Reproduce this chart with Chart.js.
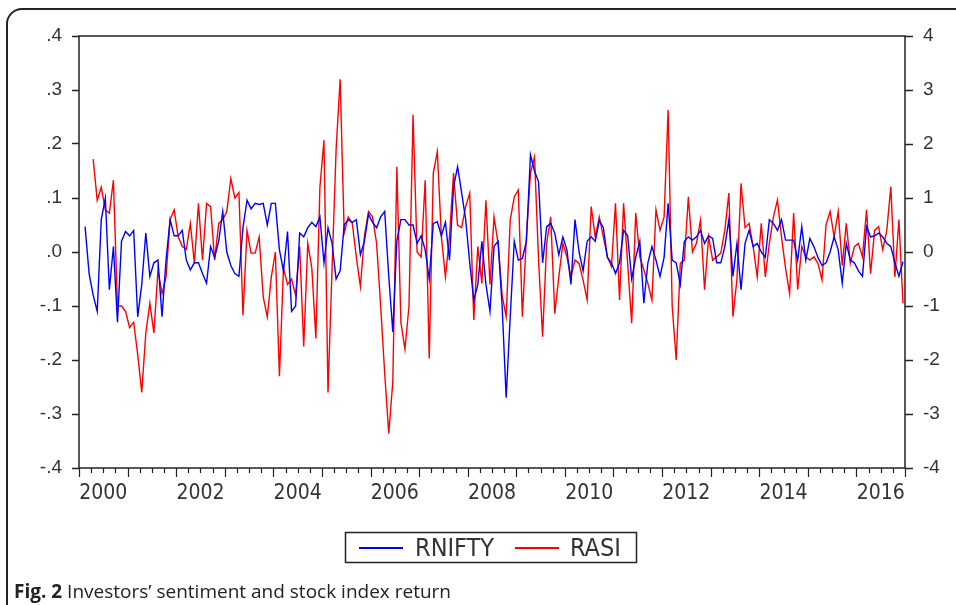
<!DOCTYPE html>
<html>
<head>
<meta charset="utf-8">
<script src="https://cdn.jsdelivr.net/npm/chart.js@4"></script>
<style>
  html, body { margin: 0; padding: 0; background: #fff; }
  #wrap { position: relative; width: 956px; height: 605px; overflow: hidden; }
  #frame { position: absolute; left: 6px; top: 8px; width: 1000px; height: 700px;
           border: 2px solid #222; border-radius: 16px 0 0 0; pointer-events: none; }
  #caption { position: absolute; left: 14px; top: 578px; font: 19px "Open Sans", sans-serif;
             color: #222; white-space: nowrap; }
</style>
</head>
<body>
<div id="wrap">
  <canvas id="chart" width="956" height="605"></canvas>
  <div id="frame"></div>
  <div id="caption"><b>Fig. 2</b> Investors’ sentiment and stock index return</div>
</div>
<script>
// monthly observations, one row per year
// RNIFTY starts Feb 2000, RASI starts Apr 2000, both end Dec 2016
const rniftyStart = 1;   // months after Jan 2000
const rasiStart = 3;
const rnifty = [
  0.047, -0.04, -0.08, -0.11, 0.06, 0.1, -0.07, 0.01, -0.13, 0.02, 0.038,
  0.03, 0.04, -0.12, -0.06, 0.035, -0.045, -0.02, -0.015, -0.12, -0.015, 0.06, 0.03,
  0.03, 0.04, -0.015, -0.033, -0.02, -0.02, -0.04, -0.058, 0.01, -0.01, 0.02, 0.075,
  0.0, -0.025, -0.04, -0.045, 0.045, 0.096, 0.08, 0.09, 0.088, 0.09, 0.05, 0.09,
  0.09, 0.004, -0.035, 0.038, -0.11, -0.1, 0.035, 0.028, 0.045, 0.055, 0.047, 0.065,
  -0.02, 0.045, 0.016, -0.05, -0.035, 0.05, 0.06, 0.055, 0.06, -0.005, 0.02, 0.07,
  0.055, 0.045, 0.065, 0.075, -0.045, -0.148, 0.02, 0.06, 0.06, 0.05, 0.05, 0.016,
  0.03, 0.004, -0.05, 0.053, 0.056, 0.03, 0.055, -0.015, 0.12, 0.158, 0.11, 0.06,
  -0.02, -0.09, -0.06, 0.02, -0.06, -0.11, 0.01, 0.02, -0.1, -0.27, -0.12, 0.02,
  -0.015, -0.012, 0.02, 0.18, 0.15, 0.13, -0.02, 0.047, 0.053, 0.035, -0.005, 0.028,
  0.004, -0.06, 0.06, 0.0, -0.035, 0.02, 0.028, 0.02, 0.058, 0.045, -0.01, -0.02,
  -0.04, -0.02, 0.04, 0.03, -0.05, -0.01, 0.02, -0.095, -0.02, 0.01, -0.015, -0.045,
  -0.01, 0.09, -0.015, -0.02, -0.06, 0.02, 0.028, 0.022, 0.028, 0.04, 0.016, 0.03,
  0.025, -0.02, -0.02, 0.01, 0.06, -0.045, 0.016, -0.07, 0.016, 0.04, 0.01, 0.016,
  0.0, -0.01, 0.06, 0.053, 0.04, 0.06, 0.022, 0.022, 0.022, -0.015, 0.047, -0.015,
  0.025, 0.01, -0.01, -0.025, -0.02, 0.0, 0.028, 0.004, -0.058, 0.016, -0.015, -0.02,
  -0.035, -0.045, 0.047, 0.028, 0.03, 0.035, 0.028, 0.016, 0.01, -0.02, -0.045, -0.018
];
const rasi = [
  1.72, 0.96, 1.2, 0.78, 0.72, 1.33, -1.0, -1.0, -1.1,
  -1.4, -1.3, -1.9, -2.6, -1.5, -0.95, -1.5, -0.33, -0.77, -0.46, 0.6, 0.78,
  0.28, 0.1, 0.05, 0.53, -0.21, 0.9, -0.15, 0.9, 0.84, -0.15, 0.53, 0.6,
  0.75, 1.36, 1.0, 1.1, -1.17, 0.4, -0.02, -0.02, 0.28, -0.83, -1.2, -0.46,
  0.0, -2.3, -0.3, -0.6, -0.5, -0.8, 0.1, -1.75, 0.16, -0.3, -1.6, 1.2,
  2.07, -2.6, -0.3, 1.9, 3.2, 0.35, 0.65, 0.53, -0.1, -0.64, 0.3, 0.75,
  0.65, 0.16, -1.0, -2.25, -3.36, -2.4, 1.58, -1.3, -1.8, -1.0, 2.54, 0.0,
  -0.09, 1.33, -1.97, 1.46, 1.86, 0.28, -0.46, 0.28, 1.46, 0.5, 0.45, 0.84,
  1.09, -1.26, 0.1, -0.58, 0.96, -0.6, 0.65, 0.16, -0.8, -1.2, 0.59, 1.02,
  1.15, -1.2, 0.28, 1.46, 1.76, -0.15, -1.57, 0.16, 0.65, -1.14, -0.46, 0.16,
  -0.09, -0.46, -0.15, -0.21, -0.52, -0.89, 0.84, 0.28, 0.65, 0.28, -0.09, -0.27,
  0.9, -0.89, 0.9, -0.21, -1.32, 0.72, -0.09, -0.33, -0.58, -0.89, 0.78, 0.4,
  0.65, 2.63, -1.0, -2.0, -0.21, -0.15, 1.02, 0.0, 0.16, 0.59, -0.7, 0.28,
  -0.15, -0.09, -0.02, 0.4, 1.09, -1.2, -0.5, 1.27, 0.45, 0.53, 0.1, -0.46,
  0.53, -0.46, 0.16, 0.65, 0.96, 0.28, -0.3, -0.77, 0.72, -0.7, 0.1, -0.09,
  -0.15, -0.09, -0.21, -0.52, 0.5, 0.75, 0.28, 0.75, -0.25, 0.53, -0.21, 0.1,
  0.16, -0.09, 0.78, -0.4, 0.4, 0.47, 0.04, 0.4, 1.21, -0.46, 0.6, -0.95
];
const yearLabels = [2000, 2002, 2004, 2006, 2008, 2010, 2012, 2014, 2016];

const toPoints = (values, start) =>
  values.map((v, i) => ({ x: 2000 + (start + i + 0.5) / 12, y: v }));

const narrow = '"Liberation Sans Narrow", "Arial Narrow", "DejaVu Sans Condensed", "Liberation Sans", sans-serif';
const ink = '#333';

const boxPlugin = {
  id: 'box',
  afterDatasetsDraw(chart) {
    const { ctx, chartArea: a } = chart;
    const x = chart.scales.x;
    ctx.save();
    ctx.strokeStyle = '#222';
    ctx.lineWidth = 1.5;
    ctx.strokeRect(a.left, a.top, a.right - a.left, a.bottom - a.top);
    // quarterly ticks, long ones at each year
    ctx.lineWidth = 1.2;
    ctx.beginPath();
    for (let q = 0; q <= 68; q++) {
      const px = Math.round(x.getPixelForValue(2000 + q / 4)) + 0.5;
      ctx.moveTo(px, a.bottom);
      ctx.lineTo(px, a.bottom + (q % 4 === 0 ? 9 : 5));
    }
    ctx.stroke();
    // boxed legend below the axis
    ctx.lineWidth = 1.5;
    ctx.strokeRect(345.5, 532.5, 291, 30);
    const slots = [[359, 415], [515, 570]];
    ctx.font = '25px ' + narrow;
    ctx.textBaseline = 'middle';
    chart.data.datasets.forEach((ds, i) => {
      const [lx, tx] = slots[i];
      ctx.strokeStyle = ds.borderColor;
      ctx.lineWidth = 2;
      ctx.beginPath();
      ctx.moveTo(lx, 548);
      ctx.lineTo(lx + 44, 548);
      ctx.stroke();
      ctx.fillStyle = ink;
      ctx.fillText(ds.label, tx, 549);
    });
    ctx.restore();
  }
};

new Chart(document.getElementById('chart'), {
  type: 'line',
  data: {
    datasets: [
      { label: 'RNIFTY', data: toPoints(rnifty, rniftyStart), yAxisID: 'y',
        borderColor: '#0000ff', borderWidth: 1.4, pointRadius: 0, tension: 0 },
      { label: 'RASI', data: toPoints(rasi, rasiStart), yAxisID: 'y2',
        borderColor: '#ff0000', borderWidth: 1.4, pointRadius: 0, tension: 0 }
    ]
  },
  options: {
    responsive: false,
    animation: false,
    layout: { padding: { top: 36, left: 0, right: 0, bottom: 97 } },
    plugins: { legend: { display: false }, tooltip: { enabled: false } },
    scales: {
      x: {
        type: 'linear', min: 2000, max: 2017,
        grid: { display: false },
        border: { display: false },
        afterBuildTicks: s => { s.ticks = yearLabels.map(y => ({ value: y + 0.5 })); },
        afterFit: s => { s.height = 40; },
        ticks: {
          autoSkip: false, maxRotation: 0, padding: 5, color: ink,
          font: { family: narrow, size: 21 },
          callback: v => String(Math.floor(v))
        }
      },
      y: {
        position: 'left', min: -0.4, max: 0.4,
        grid: { drawOnChartArea: false, tickLength: 7, tickColor: '#222', tickWidth: 1.5 },
        border: { display: false },
        afterFit: s => { s.width = 79; },
        ticks: {
          stepSize: 0.1, padding: 10, color: ink,
          font: { family: '"Liberation Sans", Arial, sans-serif', size: 19 },
          callback: v => (Math.round(v * 10) / 10).toFixed(1).replace('0.', '.')
        }
      },
      y2: {
        position: 'right', min: -4, max: 4,
        grid: { drawOnChartArea: false, tickLength: 8, tickColor: '#222', tickWidth: 1.5 },
        border: { display: false },
        afterFit: s => { s.width = 51; },
        ticks: {
          stepSize: 1, padding: 10, color: ink,
          font: { family: '"Liberation Sans", Arial, sans-serif', size: 19 },
          callback: v => String(Math.round(v))
        }
      }
    }
  },
  plugins: [boxPlugin]
});
</script>
</body>
</html>
